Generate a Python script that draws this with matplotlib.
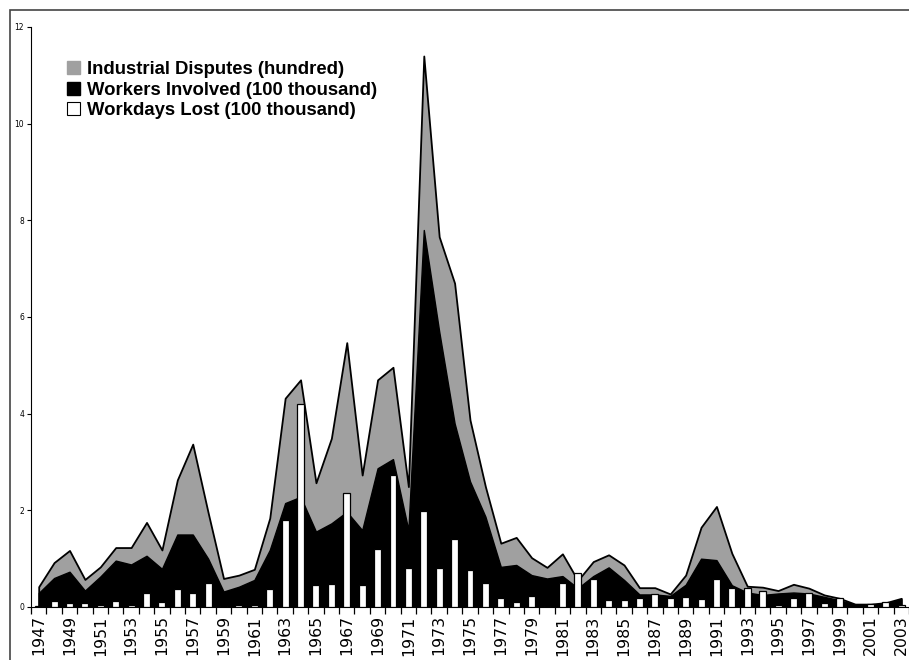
import matplotlib.pyplot as plt
import numpy as np
from matplotlib.patches import Patch, Rectangle

# 数据
years = list(range(1947, 2004))
disputes = [0.42, 0.92, 1.17, 0.57, 0.83, 1.23, 1.23, 1.75, 1.18, 2.63,
            3.37, 1.95, 0.59, 0.66, 0.78, 1.84, 4.32, 4.70, 2.57, 3.49,
            5.47, 2.73, 4.70, 4.96, 2.49, 11.40, 7.66, 6.70, 3.87, 2.49,
            1.32, 1.44, 1.02, 0.82, 1.10, 0.55, 0.94, 1.08, 0.87, 0.40,
            0.40, 0.27, 0.66, 1.65, 2.08, 1.11, 0.43, 0.41, 0.34, 0.47,
            0.39, 0.25, 0.18, 0.06, 0.06, 0.09, 0.18]
workers = [0.29, 0.60, 0.73, 0.34, 0.63, 0.96, 0.88, 1.06, 0.79, 1.50,
           1.50, 1.00, 0.32, 0.42, 0.56, 1.18, 2.15, 2.28, 1.56, 1.73,
           1.97, 1.59, 2.87, 3.06, 1.59, 7.80, 5.70, 3.80, 2.60, 1.87,
           0.83, 0.87, 0.66, 0.59, 0.64, 0.39, 0.64, 0.82, 0.56, 0.26,
           0.26, 0.23, 0.46, 1.00, 0.97, 0.45, 0.30, 0.25, 0.28, 0.30,
           0.28, 0.21, 0.14, 0.05, 0.05, 0.07, 0.16]
workdays = [0.02, 0.12, 0.08, 0.08, 0.05, 0.12, 0.05, 0.28, 0.10, 0.37,
            0.28, 0.50, 0.02, 0.05, 0.05, 0.37, 1.81, 4.19, 0.46, 0.48,
            2.35, 0.46, 1.20, 2.74, 0.80, 1.99, 0.80, 1.41, 0.77, 0.50,
            0.19, 0.10, 0.23, 0.02, 0.50, 0.70, 0.57, 0.14, 0.14, 0.18,
            0.26, 0.19, 0.21, 0.16, 0.57, 0.40, 0.40, 0.34, 0.04, 0.18,
            0.28, 0.09, 0.18, 0.01, 0.06, 0.11, 0.05]
labels = ['Industrial Disputes (hundred)', 'Workers Involved (100 thousand)',
          'Workdays Lost (100 thousand)']

x = np.arange(len(years))
grey = '#a0a0a0'

fig = plt.figure(figsize=(9.09, 6.6), dpi=100)
ax = fig.add_axes([31 / 909, 53 / 660, 1 - 31 / 909, 580 / 660])

ax.fill_between(x, disputes, color=grey, edgecolor='black', linewidth=1.3, zorder=1)
ax.fill_between(x, workers, color='black', edgecolor='black', linewidth=1.0, zorder=2)
ax.bar(x, workdays, width=0.45, color='white', edgecolor='black', linewidth=0.9, zorder=3)

ax.set_xlim(-0.5, 56.0)
ax.set_ylim(0, 12)
ax.spines['top'].set_visible(False)
ax.spines['right'].set_visible(False)

# x轴: 类别中心标签, 边界刻度
ax.set_xticks(x[::2])
ax.set_xticklabels([str(y) for y in years[::2]], rotation=90, fontsize=11.3,
                   family='DejaVu Sans')
ax.tick_params(axis='x', which='major', length=0, pad=6)
ax.set_xticks(np.arange(-0.5, len(years), 1), minor=True)
ax.tick_params(axis='x', which='minor', length=5, width=0.9, direction='out')

ax.set_yticks(range(0, 13, 2))
ax.tick_params(axis='y', labelsize=5.5, length=3, width=0.8, pad=2)

hdl = [Patch(facecolor=grey, edgecolor=grey),
       Patch(facecolor='black', edgecolor='black'),
       Patch(facecolor='white', edgecolor='black', linewidth=0.8)]
ax.legend(hdl, labels, loc='upper left', bbox_to_anchor=(36 / 878, 1 - 34 / 580),
          frameon=False, prop={'family': 'Liberation Sans', 'weight': 'bold', 'size': 13.3},
          handlelength=0.7, handleheight=0.7, handletextpad=0.4, labelspacing=0.2,
          borderaxespad=0, borderpad=0)

# 外框
fig.add_artist(Rectangle((10 / 909, -0.2), 1.2, 0.2 + 650 / 660, transform=fig.transFigure,
                         fill=False, edgecolor='#444444', linewidth=1.2))

fig.savefig('out.png', dpi=100)
